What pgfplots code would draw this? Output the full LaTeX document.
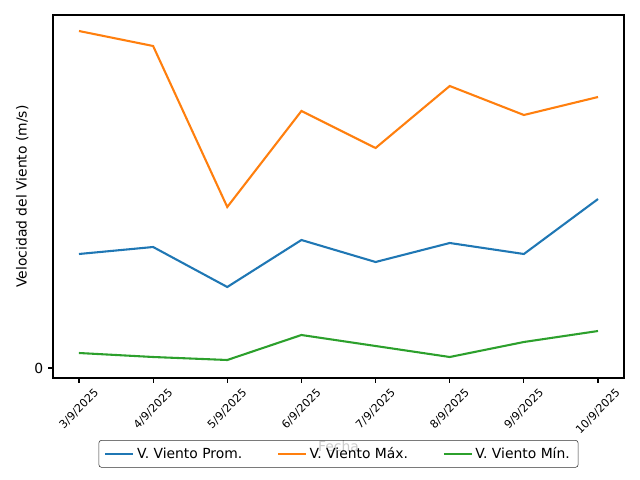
\documentclass[border=0pt]{standalone}
\usepackage{fontspec}
\setmainfont{DejaVu Sans}
\usepackage{pgfplots}
\pgfplotsset{compat=1.18}

\definecolor{tabblue}{HTML}{1F77B4}
\definecolor{taborange}{HTML}{FF7F0E}
\definecolor{tabgreen}{HTML}{2CA02C}

\begin{document}
\begin{tikzpicture}
% page size: 640x480 px at 0.72pt/px
\useasboundingbox (-38.16pt,-73.44pt) rectangle (422.64pt,272.16pt);
\begin{axis}[
    at={(0,0)}, anchor=south west,
    scale only axis,
    width=411.12pt, height=261.36pt,
    xmin=-0.35, xmax=7.35,
    ymin=-1.0, ymax=35.3,
    axis line style={line width=0.8pt},
    tick style={black, line width=0.8pt},
    major tick length=3.5pt,
    tick align=outside,
    xtick pos=bottom, ytick pos=left,
    xtick={0,...,7},
    xticklabels={\rotatebox{45}{3/9/2025},\rotatebox{45}{4/9/2025},\rotatebox{45}{5/9/2025},\rotatebox{45}{6/9/2025},
                 \rotatebox{45}{7/9/2025},\rotatebox{45}{8/9/2025},\rotatebox{45}{9/9/2025},\rotatebox{45}{10/9/2025}},
    xticklabel style={font=\fontsize{8}{9.6}\selectfont, anchor=north, inner sep=0pt, yshift=-3.5pt},
    ytick={0},
    yticklabel style={font=\fontsize{10}{12}\selectfont},
    /pgf/number format/assume math mode=true,
    xlabel={Fecha},
    xlabel style={at={(0.5,-0.187)}, anchor=center, text=black, font=\fontsize{10}{12}\selectfont},
    ylabel={Velocidad del Viento (m/s)},
    ylabel style={at={(-0.054,0.5)}, anchor=center, rotate=0, font=\fontsize{10}{12}\selectfont},
    legend columns=3,
    legend style={at={(0.5,-0.1708)}, anchor=north, draw=black!80, rounded corners=2pt,
        fill=white, fill opacity=0.8, text opacity=1,
        font=\fontsize{10}{12}\selectfont, inner xsep=4pt, inner ysep=3pt,
        /tikz/every even column/.append style={column sep=23pt}},
    legend image code/.code={\draw[#1] (0pt,0pt) -- (20pt,0pt);},
]
\addplot[tabblue, line width=1.5pt] coordinates {
    (0,11.4) (1,12.1) (2,8.1) (3,12.8) (4,10.6) (5,12.5) (6,11.4) (7,16.9)
};
\addlegendentry{V. Viento Prom.}
\addplot[taborange, line width=1.5pt] coordinates {
    (0,33.7) (1,32.2) (2,16.1) (3,25.7) (4,22.0) (5,28.2) (6,25.3) (7,27.1)
};
\addlegendentry{V. Viento Máx.}
\addplot[tabgreen, line width=1.5pt] coordinates {
    (0,1.5) (1,1.1) (2,0.8) (3,3.3) (4,2.2) (5,1.1) (6,2.6) (7,3.7)
};
\addlegendentry{V. Viento Mín.}
\end{axis}
\end{tikzpicture}
\end{document}
